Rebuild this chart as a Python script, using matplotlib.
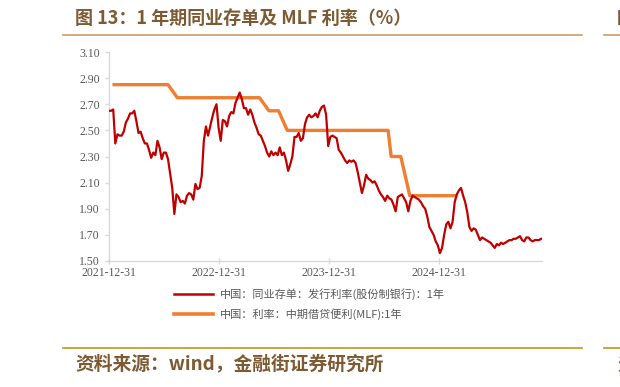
import numpy as np
import pandas as pd
import matplotlib
matplotlib.use("Agg")
import matplotlib.pyplot as plt
from matplotlib.lines import Line2D

plt.rcParams['font.family'] = ['Noto Sans CJK SC', 'DejaVu Sans']

# weekly NCD issuing rate (joint-stock banks, 1Y), Fridays from 2021-12-31
ncd_start = "2021-12-31"
ncd_rate = [
    2.65, 2.65, 2.66, 2.40, 2.47, 2.46, 2.46, 2.49, 2.56, 2.59,
    2.63, 2.63, 2.65, 2.57, 2.48, 2.49, 2.44, 2.40, 2.40, 2.35,
    2.29, 2.33, 2.31, 2.42, 2.37, 2.28, 2.33, 2.33, 2.28, 2.17,
    2.06, 1.86, 2.01, 1.99, 1.95, 1.96, 1.94, 2.00, 2.02, 2.01,
    1.97, 2.09, 2.05, 2.06, 2.15, 2.42, 2.53, 2.46, 2.53, 2.60,
    2.66, 2.70, 2.52, 2.42, 2.58, 2.57, 2.53, 2.61, 2.64, 2.63,
    2.71, 2.75, 2.79, 2.74, 2.67, 2.67, 2.62, 2.66, 2.62, 2.56,
    2.52, 2.47, 2.46, 2.42, 2.38, 2.33, 2.30, 2.34, 2.31, 2.33,
    2.31, 2.37, 2.31, 2.33, 2.27, 2.19, 2.24, 2.30, 2.45, 2.45,
    2.48, 2.42, 2.44, 2.55, 2.60, 2.62, 2.60, 2.61, 2.63, 2.60,
    2.65, 2.68, 2.69, 2.62, 2.38, 2.45, 2.46, 2.45, 2.44, 2.35,
    2.33, 2.30, 2.27, 2.25, 2.27, 2.26, 2.27, 2.25, 2.18, 2.10,
    2.02, 2.08, 2.16, 2.13, 2.12, 2.10, 2.11, 2.08, 2.04, 2.01,
    1.99, 1.96, 2.00, 1.98, 1.97, 1.93, 1.88, 1.99, 2.00, 2.01,
    1.98, 1.95, 1.88, 1.96, 2.00, 1.99, 1.98, 1.97, 1.95, 1.92,
    1.90, 1.84, 1.76, 1.73, 1.70, 1.65, 1.62, 1.56, 1.60, 1.70,
    1.78, 1.80, 1.75, 1.80, 1.95, 2.01, 2.04, 2.06, 2.00, 1.95,
    1.87, 1.76, 1.73, 1.75, 1.74, 1.70, 1.66, 1.68, 1.67, 1.66,
    1.65, 1.64, 1.62, 1.60, 1.63, 1.62, 1.64, 1.63, 1.64, 1.65,
    1.66, 1.66, 1.67, 1.67, 1.68, 1.69, 1.66, 1.65, 1.68, 1.68,
    1.66, 1.65, 1.66, 1.66, 1.66, 1.67,
]

# MLF 1Y rate at operation dates
mlf_dates = [
    "2022-01-17", "2022-02-15", "2022-03-15", "2022-04-15", "2022-05-16",
    "2022-06-15", "2022-07-15", "2022-08-15", "2022-09-15", "2022-10-17",
    "2022-11-15", "2022-12-15", "2023-01-16", "2023-02-15", "2023-03-15",
    "2023-04-17", "2023-05-15", "2023-06-15", "2023-07-17", "2023-08-15",
    "2023-09-15", "2023-10-16", "2023-11-15", "2023-12-15", "2024-01-15",
    "2024-02-18", "2024-03-15", "2024-04-15", "2024-05-15", "2024-06-17",
    "2024-07-15", "2024-07-25", "2024-08-26", "2024-09-25", "2024-10-25",
    "2024-11-25", "2024-12-25", "2025-01-24", "2025-02-25",
]
mlf_rate = [
    2.85, 2.85, 2.85, 2.85, 2.85, 2.85, 2.85, 2.75, 2.75, 2.75,
    2.75, 2.75, 2.75, 2.75, 2.75, 2.75, 2.75, 2.65, 2.65, 2.50,
    2.50, 2.50, 2.50, 2.50, 2.50, 2.50, 2.50, 2.50, 2.50, 2.50,
    2.50, 2.30, 2.30, 2.00, 2.00, 2.00, 2.00, 2.00, 2.00,
]

tick_dates = ["2021-12-31", "2022-12-31", "2023-12-31", "2024-12-31"]
y_ticks = [1.50, 1.70, 1.90, 2.10, 2.30, 2.50, 2.70, 2.90, 3.10]

label_ncd = "中国：同业存单：发行利率(股份制银行)：1年"
label_mlf = "中国：利率：中期借贷便利(MLF):1年"
title = "图 13：1 年期同业存单及 MLF 利率（%）"
source = "资料来源：wind，金融街证券研究所"

red = "#c00000"
orange = "#ef7d32"
gray = "#595959"
brown = "#7d5a32"

ncd_dates = pd.date_range(ncd_start, periods=len(ncd_rate), freq="7D")

fig = plt.figure(figsize=(6.2, 3.87), dpi=100)
ax = fig.add_axes([0.1758, 0.3256, 0.6984, 0.54])

ax.plot(ncd_dates, ncd_rate, color=red, lw=1.6, zorder=3)
ax.plot(pd.to_datetime(mlf_dates), mlf_rate, color=orange, lw=2.4, zorder=2)

ax.set_ylim(1.50, 3.10)
ax.set_yticks(y_ticks)
ax.set_yticklabels([f"{v:.2f}" for v in y_ticks])
ax.set_xlim(pd.Timestamp("2021-12-31"), pd.Timestamp("2025-12-08"))
ax.set_xticks(pd.to_datetime(tick_dates))
ax.set_xticklabels(tick_dates)

for s in ["top", "right"]:
    ax.spines[s].set_visible(False)
for s in ["left", "bottom"]:
    ax.spines[s].set_color("#d9d9d9")
    ax.spines[s].set_linewidth(1.0)
ax.tick_params(axis="both", colors="#d9d9d9", labelcolor=gray, length=3,
               width=1.0, labelsize=8.5)
ax.tick_params(axis="x", direction="inout", length=5, pad=2)
for lab in ax.get_xticklabels() + ax.get_yticklabels():
    lab.set_family(["Liberation Serif", "DejaVu Serif"])

handles = [Line2D([], [], color=red, lw=1.8), Line2D([], [], color=orange, lw=2.6)]
leg = fig.legend(handles, [label_ncd, label_mlf], loc="upper left",
                 bbox_to_anchor=(174 / 620, 1 - 288 / 387), frameon=False,
                 fontsize=8, handlelength=3.5, handletextpad=0.6,
                 labelspacing=0.75, borderaxespad=0, borderpad=0)
for t in leg.get_texts():
    t.set_color(gray)
    t.set_family(["Noto Sans CJK SC", "Liberation Serif"])

# header and footer
fig.text(75 / 620, 1 - 18 / 387, title, fontsize=13, fontweight="bold",
         color=brown, va="center", ha="left")
fig.text(75 / 620, 1 - 365 / 387, source, fontsize=13.5, fontweight="bold",
         color=brown, va="center", ha="left")
fig.text(617 / 620, 1 - 19 / 387, "图", fontsize=12, fontweight="bold",
         color=brown, va="center", ha="left")
fig.text(617 / 620, 1 - 365 / 387, "资", fontsize=12, fontweight="bold",
         color=brown, va="center", ha="left")
for yy, c in [(35, "#c8a060"), (348, "#c8921e")]:
    fig.add_artist(Line2D([63 / 620, 582 / 620], [1 - yy / 387] * 2,
                          color=c, lw=1.2, transform=fig.transFigure))
    fig.add_artist(Line2D([604 / 620, 1.0], [1 - yy / 387] * 2,
                          color=c, lw=1.2, transform=fig.transFigure))

fig.savefig("out.png", dpi=100)
